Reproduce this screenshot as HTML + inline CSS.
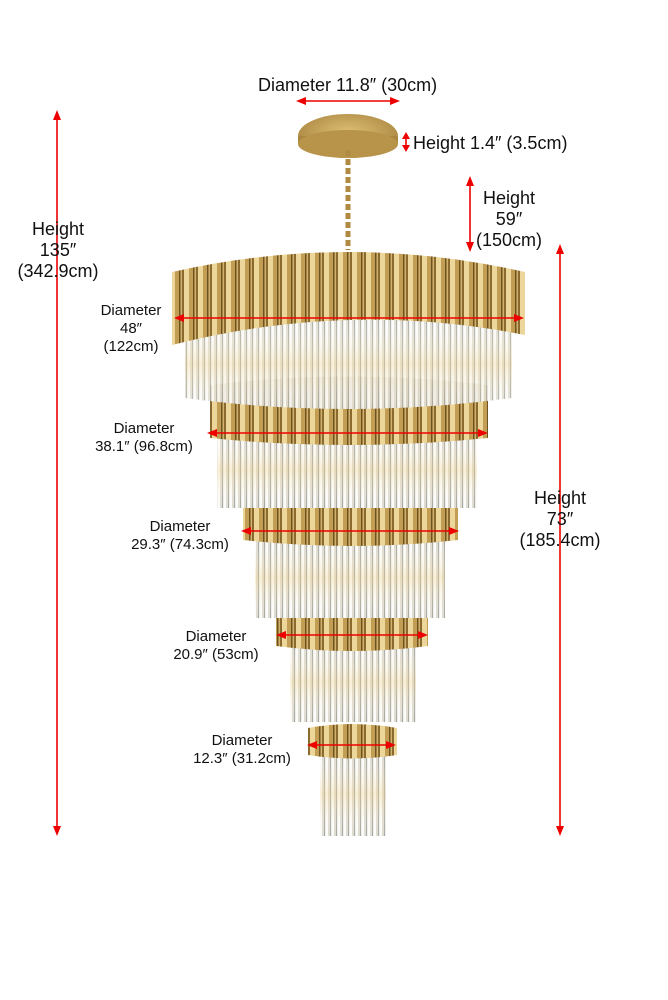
<!DOCTYPE html>
<html><head><meta charset="utf-8"><style>
html,body{margin:0;padding:0;background:#fff}
svg{display:block}
text{font-family:"Liberation Sans",sans-serif;fill:#111}
</style></head><body>
<svg width="668" height="1000" viewBox="0 0 668 1000">
<defs>
<pattern id="gold" width="14" height="100" patternUnits="userSpaceOnUse">
<rect width="14" height="100" fill="#d2b36c"/>
<rect x="0" width="2" height="100" fill="#8a6a2e"/>
<rect x="2" width="5" height="100" fill="#ecd699"/>
<rect x="7" width="4" height="100" fill="#c29e55"/>
<rect x="11" width="1.5" height="100" fill="#6e5222"/>
</pattern>
<pattern id="crys" width="6" height="100" patternUnits="userSpaceOnUse">
<rect width="6" height="100" fill="#eef0ee"/>
<rect x="0" width="1" height="100" fill="#a8a8a2"/>
<rect x="2" width="2" height="100" fill="#fcfcfa"/>
<rect x="4.5" width="1" height="100" fill="#cfc8b6"/>
</pattern>
<linearGradient id="cg" x1="0" y1="0" x2="0" y2="1">
<stop offset="0" stop-color="#fff" stop-opacity="0"/>
<stop offset="0.5" stop-color="#f4d690" stop-opacity="0.35"/>
<stop offset="1" stop-color="#fff" stop-opacity="0"/>
</linearGradient>
<radialGradient id="can" cx="0.5" cy="0.4" r="0.6">
<stop offset="0" stop-color="#dcbd72"/><stop offset="1" stop-color="#a98540"/>
</radialGradient>
</defs>

<!-- Tier 5 -->
<rect x="320" y="752" width="66" height="84" fill="url(#crys)"/>
<rect x="320" y="752" width="66" height="84" fill="url(#cg)"/>
<path d="M308 728 Q352 720 397 728 L397 755 Q352 762 308 755Z" fill="url(#gold)"/>
<!-- Tier 4 -->
<rect x="290" y="642" width="126" height="80" fill="url(#crys)"/>
<rect x="290" y="642" width="126" height="80" fill="url(#cg)"/>
<path d="M276 614 Q352 604 428 614 L428 646 Q352 656 276 646Z" fill="url(#gold)"/>
<!-- Tier 3 -->
<rect x="255" y="538" width="190" height="80" fill="url(#crys)"/>
<rect x="255" y="538" width="190" height="80" fill="url(#cg)"/>
<path d="M243 500 Q350 488 458 500 L458 540 Q350 552 243 540Z" fill="url(#gold)"/>
<!-- Tier 2 -->
<rect x="217" y="432" width="260" height="76" fill="url(#crys)"/>
<rect x="217" y="432" width="260" height="76" fill="url(#cg)"/>
<path d="M210 385 Q348 368 488 385 L488 438 Q348 452 210 438Z" fill="url(#gold)"/>
<!-- Tier 1 -->
<path d="M185 320 L512 320 L512 398 Q348 420 185 398Z" fill="url(#crys)" opacity="0.9"/>
<path d="M185 320 L512 320 L512 398 Q348 420 185 398Z" fill="url(#cg)"/>
<path d="M172 272 Q348 232 525 272 L525 335 Q348 300 172 345Z" fill="url(#gold)"/>

<!-- canopy & chain -->
<ellipse cx="348" cy="136" rx="50" ry="22" fill="url(#can)"/>
<rect x="298" y="136" width="100" height="8" fill="#a98540"/>
<ellipse cx="348" cy="144" rx="50" ry="14" fill="#b8944a"/>
<line x1="348" y1="150" x2="348" y2="250" stroke="#b08a42" stroke-width="5" stroke-dasharray="6 3"/>

<!-- red arrows -->
<g stroke="#e00" stroke-width="1.6" fill="#e00">
<line x1="57" y1="118" x2="57" y2="828"/>
<path d="M57 110 l-4 10 h8z" stroke="none"/><path d="M57 836 l-4 -10 h8z" stroke="none"/>
<line x1="560" y1="252" x2="560" y2="828"/>
<path d="M560 244 l-4 10 h8z" stroke="none"/><path d="M560 836 l-4 -10 h8z" stroke="none"/>
<line x1="470" y1="180" x2="470" y2="244"/>
<path d="M470 176 l-4 10 h8z" stroke="none"/><path d="M470 252 l-4 -10 h8z" stroke="none"/>
<line x1="406" y1="136" x2="406" y2="148"/>
<path d="M406 132 l-4 7 h8z" stroke="none"/><path d="M406 152 l-4 -7 h8z" stroke="none"/>
<line x1="304" y1="101" x2="392" y2="101"/>
<path d="M296 101 l10 -4 v8z" stroke="none"/><path d="M400 101 l-10 -4 v8z" stroke="none"/>
<line x1="182" y1="318" x2="516" y2="318"/>
<path d="M174 318 l10 -4 v8z" stroke="none"/><path d="M524 318 l-10 -4 v8z" stroke="none"/>
<line x1="215" y1="433" x2="480" y2="433"/>
<path d="M207 433 l10 -4 v8z" stroke="none"/><path d="M488 433 l-10 -4 v8z" stroke="none"/>
<line x1="249" y1="531" x2="451" y2="531"/>
<path d="M241 531 l10 -4 v8z" stroke="none"/><path d="M459 531 l-10 -4 v8z" stroke="none"/>
<line x1="284" y1="635" x2="420" y2="635"/>
<path d="M276 635 l10 -4 v8z" stroke="none"/><path d="M428 635 l-10 -4 v8z" stroke="none"/>
<line x1="315" y1="745" x2="388" y2="745"/>
<path d="M307 745 l10 -4 v8z" stroke="none"/><path d="M396 745 l-10 -4 v8z" stroke="none"/>
</g>

<!-- labels -->
<text x="258" y="91" font-size="18">Diameter 11.8″  (30cm)</text>
<text x="413" y="149" font-size="18">Height  1.4″  (3.5cm)</text>
<g font-size="18" text-anchor="middle">
<text x="509" y="204">Height</text><text x="509" y="225">59″</text><text x="509" y="246">(150cm)</text>
<text x="58" y="235">Height</text><text x="58" y="256">135″</text><text x="58" y="277">(342.9cm)</text>
<text x="560" y="504">Height</text><text x="560" y="525">73″</text><text x="560" y="546">(185.4cm)</text>
</g>
<g font-size="15" text-anchor="middle">
<text x="131" y="315">Diameter</text><text x="131" y="333">48″</text><text x="131" y="351">(122cm)</text>
<text x="144" y="433">Diameter</text><text x="144" y="451">38.1″  (96.8cm)</text>
<text x="180" y="531">Diameter</text><text x="180" y="549">29.3″  (74.3cm)</text>
<text x="216" y="641">Diameter</text><text x="216" y="659">20.9″  (53cm)</text>
<text x="242" y="745">Diameter</text><text x="242" y="763">12.3″  (31.2cm)</text>
</g>
</svg>
</body></html>
